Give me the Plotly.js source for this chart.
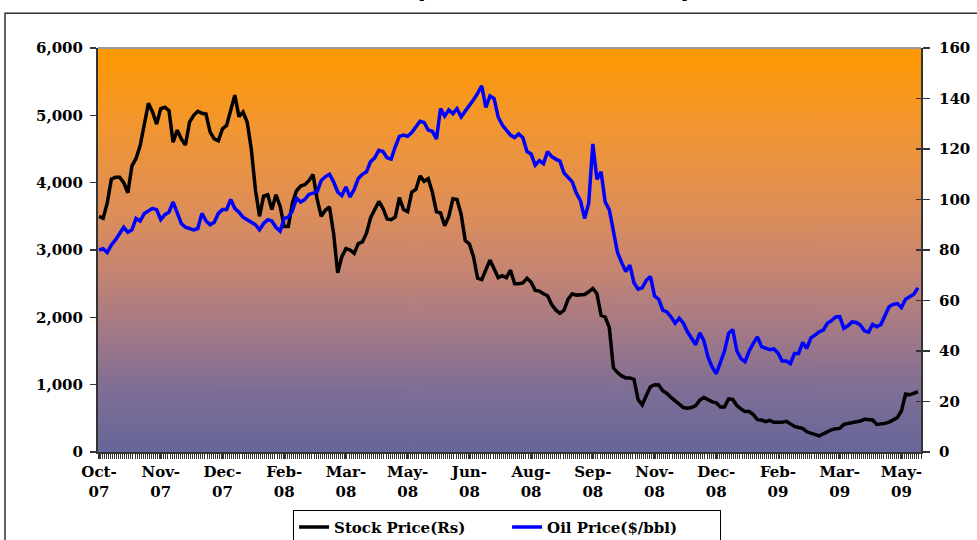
<!DOCTYPE html>
<html>
<head>
<meta charset="utf-8">
<script src="https://cdn.plot.ly/plotly-3.0.1.min.js"></script>
<style>
  html, body { margin: 0; padding: 0; background: #ffffff; }
  #chart { width: 977px; height: 540px; }
</style>
</head>
<body>
<div id="chart"></div>
<script>
// Category tick labels (every 15th sample, ~ every 30 trading days)
const tickLabels = ["Oct-<br>07","Nov-<br>07","Dec-<br>07","Feb-<br>08","Mar-<br>08","May-<br>08","Jun-<br>08",
                    "Aug-<br>08","Sep-<br>08","Nov-<br>08","Dec-<br>08","Feb-<br>09","Mar-<br>09","May-<br>09"];
const tickPositions = [0,15,30,45,60,75,90,105,120,135,150,165,180,195];

// Stock price (Rs), left axis (one value every 2 trading days)
const stockPrice = [
 3500,3470,3700,4050,4080,4080,4000,3850,4250,4360,
 4550,4850,5180,5050,4870,5100,5120,5070,4600,4780,
 4650,4560,4900,5000,5060,5030,5020,4750,4650,4620,
 4800,4850,5080,5300,4980,5050,4900,4500,3900,3500,
 3800,3820,3600,3820,3650,3350,3350,3700,3880,3950,
 3970,4030,4120,3760,3500,3590,3640,3250,2660,2900,
 3020,3000,2950,3095,3120,3250,3480,3590,3720,3620,
 3460,3450,3490,3780,3600,3570,3860,3900,4100,4020,
 4060,3860,3570,3550,3360,3500,3760,3750,3530,3140,
 3090,2900,2580,2560,2700,2850,2720,2590,2620,2590,
 2700,2500,2500,2510,2580,2520,2400,2390,2350,2320,
 2190,2110,2060,2105,2270,2350,2330,2330,2340,2380,
 2430,2350,2030,2005,1850,1250,1180,1130,1100,1100,
 1080,780,700,840,970,1000,995,910,870,810,
 755,710,660,650,660,690,770,810,770,745,
 730,670,670,790,780,690,640,600,600,555,
 480,475,450,470,440,440,440,455,415,380,
 365,352,300,280,250,238,270,300,330,345,
 350,410,420,430,440,460,485,475,475,410,
 415,425,445,480,510,610,860,850,870,895
];

// Oil price ($/bbl), right axis
const oilPrice = [
 80,80.5,79,82,84,86.5,89,87,88,92.5,
 91.5,94.5,95.5,96.5,96,92,94,95,99,95,
 90.5,89,88.5,88,88.5,94.5,91.5,90,91,94.5,
 96,96,100,96.5,95,93,92,91,90,88,
 90.5,92,91.5,89,87.5,92.5,93,95.5,100.5,99,
 100,102,102.5,103,107.5,109,110,107,103,101.5,
 105,101,104,108.3,110,111,115,116.5,119.5,119,
 116.5,116,121,125,125.5,125,126.5,128.5,131,130.5,
 127.5,127,124,136,133,135.5,134,136,132.7,135,
 137,139.5,142,145,136.5,141,140,132.7,129.5,127.5,
 125.5,124.5,126,124.5,119,118,113.6,115.4,114.2,119,
 117,116,115.2,110.5,108.5,107,102.5,99.5,92.5,98.5,
 122,108,111,99,96,88,79,75,71.5,74,
 67,64.5,65,68,69.5,61.8,60.5,56.2,55.5,53.5,
 51,53,51,47.6,45.2,42.5,47.2,44,37.5,33.6,
 31,36,40,47,48.5,40,37,35.8,40,43,
 45.6,41.7,41.2,40.5,40.8,39.2,36,36,35,39,
 39,43.4,41,45.2,46.3,47.6,48.3,51,52,53.5,
 53.6,49,50,51.5,51.3,50.3,48,47.5,50.5,49.6,
 50.5,54,57.5,58.5,58.8,57.2,60.5,61.5,62.5,65
];

const seriesNames = ["Stock Price(Rs)", "Oil Price($/bbl)"];
const titleText = "Stock price and crude oil price";

// Plot-area gradient background (orange at top to slate blue at bottom)
function gradientImage() {
  const c = document.createElement('canvas');
  c.width = 4; c.height = 405;
  const ctx = c.getContext('2d');
  const g = ctx.createLinearGradient(0, 0, 0, 405);
  g.addColorStop(0.00, 'rgb(255,153,0)');
  g.addColorStop(0.20, 'rgb(242,150,50)');
  g.addColorStop(0.40, 'rgb(222,142,88)');
  g.addColorStop(0.55, 'rgb(198,133,114)');
  g.addColorStop(0.70, 'rgb(163,121,135)');
  g.addColorStop(0.85, 'rgb(126,110,150)');
  g.addColorStop(1.00, 'rgb(102,102,153)');
  ctx.fillStyle = g;
  ctx.fillRect(0, 0, 4, 405);
  return c.toDataURL();
}

const FONT = 'DejaVu Serif';
const tickFont = {family: FONT, size: 15, color: '#000', weight: 700};

const traces = [
  {type: 'scatter', mode: 'lines', name: seriesNames[0], y: stockPrice, yaxis: 'y',
   line: {color: '#000000', width: 3.5}},
  {type: 'scatter', mode: 'lines', name: seriesNames[1], y: oilPrice, yaxis: 'y2',
   line: {color: '#0000FF', width: 3.5}}
];

const layout = {
  width: 977, height: 540,
  margin: {l: 98, r: 56, t: 48, b: 88, autoexpand: false},
  paper_bgcolor: '#ffffff',
  plot_bgcolor: 'rgba(0,0,0,0)',
  showlegend: true,
  legend: {
    orientation: 'h', xref: 'container', x: 0.519, xanchor: 'center',
    yref: 'container', y: 0.056, yanchor: 'top',
    entrywidth: 168,
    bgcolor: '#ffffff', bordercolor: '#000000', borderwidth: 1,
    font: {family: FONT, size: 15, color: '#000', weight: 700},
    itemclick: false
  },
  xaxis: {
    range: [-0.25, 199.75], fixedrange: true,
    tickmode: 'array', tickvals: tickPositions, ticktext: tickLabels,
    ticks: 'outside', ticklen: 5, tickcolor: '#333', tickwidth: 1,
    minor: {dtick: 0.5, tick0: -0.25, ticks: 'outside', ticklen: 5, tickcolor: '#333', tickwidth: 1, showgrid: false},
    showline: true, linecolor: '#333', linewidth: 2,
    showgrid: false, zeroline: false,
    tickfont: tickFont, tickangle: 0
  },
  yaxis: {
    range: [0, 6000], dtick: 1000, tickformat: ',d',
    ticks: 'outside', ticklen: 6, tickcolor: '#333', tickwidth: 1.5,
    showline: true, linecolor: '#333', linewidth: 2,
    showgrid: false, zeroline: false, tickfont: tickFont, ticklabelstandoff: 4
  },
  yaxis2: {
    range: [0, 160], dtick: 20, overlaying: 'y', side: 'right', anchor: 'x',
    ticks: 'outside', ticklen: 7, tickcolor: '#333', tickwidth: 1.5,
    showline: true, linecolor: '#333', linewidth: 2,
    showgrid: false, zeroline: false, tickfont: tickFont, ticklabelstandoff: 6
  },
  yaxis3: {
    range: [0, 160], dtick: 20, overlaying: 'y', side: 'right', anchor: 'x',
    ticks: 'inside', ticklen: 5, tickcolor: '#333', tickwidth: 1.5,
    showticklabels: false, showline: false, showgrid: false, zeroline: false
  },
  images: [{
    source: gradientImage(), xref: 'paper', yref: 'paper',
    x: 0, y: 1, sizex: 1, sizey: 1, sizing: 'stretch',
    xanchor: 'left', yanchor: 'top', layer: 'below'
  }],
  shapes: [
    {type: 'line', xref: 'paper', yref: 'paper', x0: 0, x1: 1, y0: 1, y1: 1,
     line: {color: '#9a9a9a', width: 2}},
    {type: 'rect', xref: 'paper', yref: 'paper', x0: -0.113, x1: 1.3, y0: -0.5, y1: 1.0858,
     line: {color: '#333333', width: 1.5}, fillcolor: 'rgba(0,0,0,0)', layer: 'below'}
  ],
  annotations: [{
    text: titleText, xref: 'paper', yref: 'paper', x: 0.285, xanchor: 'left',
    y: 1.108, yanchor: 'bottom', showarrow: false,
    font: {family: FONT, size: 24, color: '#000', weight: 700, style: 'italic'}
  }]
};

// empty trace on yaxis3 so the inside tick marks of the right axis are drawn
traces.push({type: 'scatter', mode: 'lines', y: [], yaxis: 'y3', showlegend: false, hoverinfo: 'skip'});

Plotly.newPlot('chart', traces, layout, {displayModeBar: false, staticPlot: true});
</script>
</body>
</html>
